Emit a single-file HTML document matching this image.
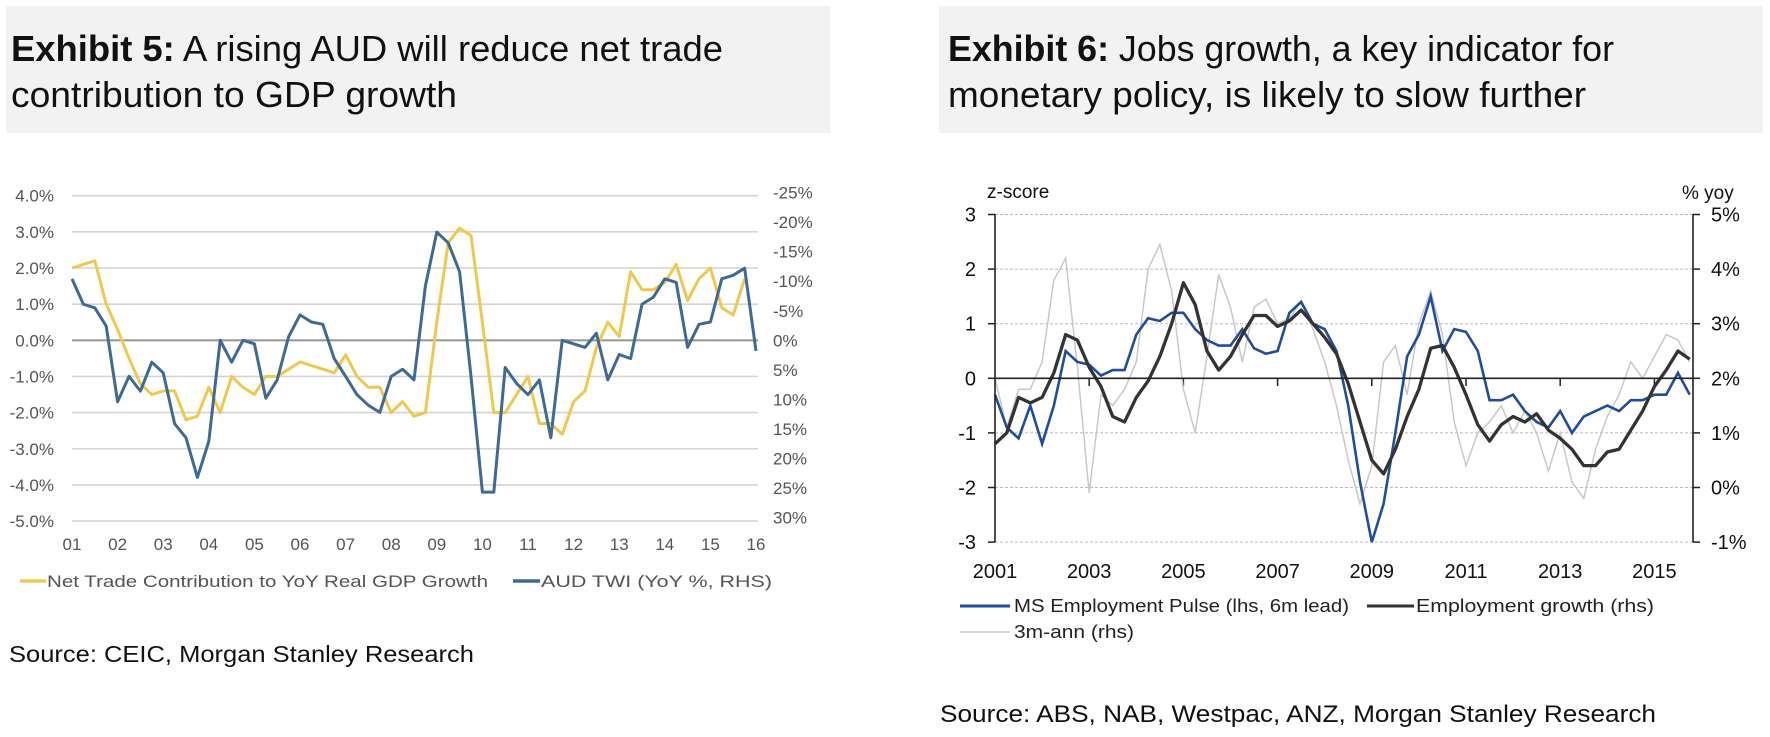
<!DOCTYPE html>
<html><head><meta charset="utf-8"><style>
body{margin:0;background:#fff;width:1770px;height:737px;overflow:hidden;font-family:"Liberation Sans",sans-serif}
svg{position:absolute;left:0;top:0}
</style></head><body>
<svg id="s" width="1770" height="737" xmlns="http://www.w3.org/2000/svg">
<rect x="6" y="6" width="824" height="127" fill="#f2f2f2"/>
<text x="11" y="61" font-size="36" fill="#111" textLength="712" lengthAdjust="spacingAndGlyphs"><tspan font-weight="bold">Exhibit 5:</tspan>  A rising AUD will reduce net trade</text>
<text x="11" y="107" font-size="36" fill="#111" textLength="446" lengthAdjust="spacingAndGlyphs">contribution to GDP growth</text>
<rect x="939" y="6" width="824" height="127" fill="#f2f2f2"/>
<text x="948" y="61" font-size="36" fill="#111" textLength="666" lengthAdjust="spacingAndGlyphs"><tspan font-weight="bold">Exhibit 6:</tspan>  Jobs growth, a key indicator for</text>
<text x="948" y="107" font-size="36" fill="#111" textLength="638" lengthAdjust="spacingAndGlyphs">monetary policy, is likely to slow further</text>
<g id="L"></g><g id="R"></g>
<line x1="20" y1="581" x2="46" y2="581" stroke="#f0c850" stroke-width="3.5"/>
<text x="47" y="587" font-size="17" fill="#555" textLength="441" lengthAdjust="spacingAndGlyphs">Net Trade Contribution to YoY Real GDP Growth</text>
<line x1="513" y1="581" x2="540" y2="581" stroke="#3e6a96" stroke-width="3.5"/>
<text x="541" y="587" font-size="17" fill="#555" textLength="231" lengthAdjust="spacingAndGlyphs">AUD TWI (YoY %, RHS)</text>
<text x="9" y="662" font-size="23" fill="#111" textLength="465" lengthAdjust="spacingAndGlyphs">Source: CEIC, Morgan Stanley Research</text>
<line x1="960" y1="606" x2="1010" y2="606" stroke="#1f4e9c" stroke-width="3"/>
<text x="1014" y="612" font-size="18" fill="#222" textLength="335" lengthAdjust="spacingAndGlyphs">MS Employment Pulse (lhs, 6m lead)</text>
<line x1="1367" y1="606" x2="1414" y2="606" stroke="#333" stroke-width="3"/>
<text x="1416" y="612" font-size="18" fill="#222" textLength="238" lengthAdjust="spacingAndGlyphs">Employment growth (rhs)</text>
<line x1="960" y1="632" x2="1010" y2="632" stroke="#c8c8c8" stroke-width="1.5"/>
<text x="1014" y="638" font-size="18" fill="#222" textLength="120" lengthAdjust="spacingAndGlyphs">3m-ann (rhs)</text>
<text x="940" y="722" font-size="24" fill="#111" textLength="716" lengthAdjust="spacingAndGlyphs">Source: ABS, NAB, Westpac, ANZ, Morgan Stanley Research</text>
</svg>
<script>
// Exhibit 5 data (quarterly from 2001Q1)
const netTrade=[2.0,2.1,2.2,1.0,0.3,-0.5,-1.2,-1.5,-1.4,-1.4,-2.2,-2.1,-1.3,-2.0,-1.0,-1.3,-1.5,-1.0,-1.0,-0.8,-0.6,-0.7,-0.8,-0.9,-0.4,-1.0,-1.3,-1.3,-2.0,-1.7,-2.1,-2.0,0.5,2.7,3.1,2.9,0.5,-2.0,-2.0,-1.5,-1.0,-2.3,-2.3,-2.6,-1.7,-1.4,-0.2,0.5,0.1,1.9,1.4,1.4,1.6,2.1,1.1,1.7,2.0,0.9,0.7,1.7];
const audTwi=[-10.4,-6.1,-5.5,-2.4,10.4,6.1,8.6,3.7,5.5,14.1,16.5,23.2,17.1,0,3.7,0,0.6,9.8,6.7,-0.6,-4.3,-3.1,-2.7,3.1,6.1,9.2,11,12.2,6.1,4.9,6.7,-9.2,-18.3,-16.5,-11.6,6.1,25.7,25.7,4.6,7.3,9.2,6.7,16.5,0,0.6,1.2,-1.2,6.7,2.4,3.1,-6.1,-7.3,-10.4,-9.8,1.2,-2.7,-3.1,-10.4,-11,-12.2,1.8];
const leftTicks5=[4,3,2,1,0,-1,-2,-3,-4,-5];
const rightTicks5=[-25,-20,-15,-10,-5,0,5,10,15,20,25,30];
const years5=["01","02","03","04","05","06","07","08","09","10","11","12","13","14","15","16"];
// Exhibit 6 data (quarterly from 2001.0)
const pulse=[-0.3,-0.9,-1.1,-0.5,-1.2,-0.5,0.5,0.3,0.25,0.05,0.15,0.15,0.8,1.1,1.05,1.2,1.2,0.9,0.7,0.6,0.6,0.9,0.55,0.45,0.5,1.2,1.4,1.0,0.9,0.5,-0.5,-1.9,-3.0,-2.3,-1.0,0.4,0.8,1.5,0.5,0.9,0.85,0.5,-0.4,-0.4,-0.3,-0.6,-0.8,-0.9,-0.6,-1.0,-0.7,-0.6,-0.5,-0.6,-0.4,-0.4,-0.3,-0.3,0.1,-0.3];
const empGrowth=[0.8,1.0,1.65,1.55,1.65,2.1,2.8,2.7,2.2,1.85,1.3,1.2,1.65,1.95,2.4,3.0,3.75,3.35,2.5,2.15,2.4,2.8,3.15,3.15,2.95,3.05,3.25,3.0,2.75,2.45,1.9,1.2,0.5,0.25,0.7,1.3,1.8,2.55,2.6,2.2,1.7,1.15,0.85,1.15,1.3,1.2,1.35,1.05,0.9,0.7,0.4,0.4,0.65,0.7,1.05,1.4,1.85,2.15,2.5,2.35];
const threeMAnn=[2,1.1,1.8,1.8,2.3,3.8,4.2,2.2,-0.1,1.7,1.5,1.8,2.3,4.0,4.45,3.6,1.8,1.0,2.4,3.9,3.3,2.3,3.3,3.45,3.0,3.1,3.4,2.9,2.3,1.5,0.5,-0.3,0.4,2.3,2.6,1.7,3.0,3.6,2.8,1.2,0.4,1.0,1.2,1.5,1.0,1.4,1.0,0.3,1.0,0.1,-0.2,0.7,1.3,1.7,2.3,2.0,2.4,2.8,2.7,2.3];
const leftTicks6=[3,2,1,0,-1,-2,-3];
const rightTicks6=["5%","4%","3%","2%","1%","0%","-1%"];
const years6=["2001","2003","2005","2007","2009","2011","2013","2015"];

const NS="http://www.w3.org/2000/svg";
function mk(p,tag,at,txt){const e=document.createElementNS(NS,tag);for(const k in at)e.setAttribute(k,at[k]);if(txt!==undefined)e.textContent=txt;p.appendChild(e);return e;}
// ---- Exhibit 5
const L=document.getElementById('L');
const yL=v=>340.3-36.15*v, yLR=v=>340.3+5.91*v, xL=i=>72+45.6*(i/4);
leftTicks5.forEach(v=>{
 const g=mk(L,'line',{x1:72,x2:758,y1:yL(v),y2:yL(v),stroke:v===0?'#9a9a9a':'#d4d4d4','stroke-width':v===0?2.2:1.6});
 
 
 const t=mk(L,'text',{x:54,y:yL(v)+6,'font-size':17,fill:'#555','text-anchor':'end'},v.toFixed(1)+'%');
 
 
});
rightTicks5.forEach(v=>{
 const t=mk(L,'text',{x:773,y:yLR(v)+6,'font-size':17,fill:'#555'},v+'%');
 
 
});
years5.forEach((s,i)=>{
 const t=mk(L,'text',{x:xL(i*4),y:550,'font-size':17,fill:'#555','text-anchor':'middle'},s);
 
 
});
let p1=mk(L,'polyline',{points:netTrade.map((v,i)=>xL(i)+','+yL(v)).join(' '),fill:'none',stroke:'#f0c850','stroke-width':3,'stroke-linejoin':'round'});


let p2=mk(L,'polyline',{points:audTwi.map((v,i)=>xL(i)+','+yLR(v)).join(' '),fill:'none',stroke:'#3e6a96','stroke-width':3,'stroke-linejoin':'round'});


// ---- Exhibit 6
const R=document.getElementById('R');
const X0=995,X1=1693,PY=47.1;
const yR=v=>378.3-54.6*v, yRR=v=>378.3-54.6*(v-2), xR=i=>X0+PY*(i/4);
leftTicks6.forEach(v=>{
 if(v!==0){const g=mk(R,'line',{x1:X0,x2:X1,y1:yR(v),y2:yR(v),stroke:'#bbb','stroke-dasharray':'3,2'});
 
 }
 const t=mk(R,'text',{x:976,y:yR(v)+7,'font-size':20,fill:'#111','text-anchor':'end'},v);
 
 
 mk(R,'line',{x1:X0-7,x2:X0,y1:yR(v),y2:yR(v),stroke:'#222','stroke-width':1.5});
 mk(R,'line',{x1:X1,x2:X1+7,y1:yR(v),y2:yR(v),stroke:'#222','stroke-width':1.5});
});
rightTicks6.forEach((s,i)=>{
 const t=mk(R,'text',{x:1711,y:yR(3-i)+7,'font-size':20,fill:'#111'},s);
 
 
});
years6.forEach((s,i)=>{
 const t=mk(R,'text',{x:X0+2*PY*i,y:578,'font-size':20,fill:'#111','text-anchor':'middle'},s);
 
 
});
for(let k=1;k<=7;k++)mk(R,'line',{x1:X0+2*PY*k,x2:X0+2*PY*k,y1:378.3,y2:386,stroke:'#222','stroke-width':1.5});
let a1=mk(R,'text',{x:987,y:198,'font-size':19,fill:'#111'},'z-score');


let a2=mk(R,'text',{x:1682,y:199,'font-size':19,fill:'#111'},'% yoy');


let g3=mk(R,'polyline',{points:threeMAnn.map((v,i)=>xR(i)+','+yRR(v)).join(' '),fill:'none',stroke:'#c8c8c8','stroke-width':1.5});


let g1=mk(R,'polyline',{points:pulse.map((v,i)=>xR(i)+','+yR(v)).join(' '),fill:'none',stroke:'#1f4e9c','stroke-width':2.6});


let g2=mk(R,'polyline',{points:empGrowth.map((v,i)=>xR(i)+','+yRR(v)).join(' '),fill:'none',stroke:'#333','stroke-width':3.3,'stroke-linejoin':'round'});


mk(R,'line',{x1:X0,x2:X1,y1:378.3,y2:378.3,stroke:'#222','stroke-width':1.6});
mk(R,'line',{x1:X0,x2:X0,y1:214,y2:542,stroke:'#222','stroke-width':1.6});
mk(R,'line',{x1:X1,x2:X1,y1:214,y2:542,stroke:'#222','stroke-width':1.6});
</script>
</body></html>
